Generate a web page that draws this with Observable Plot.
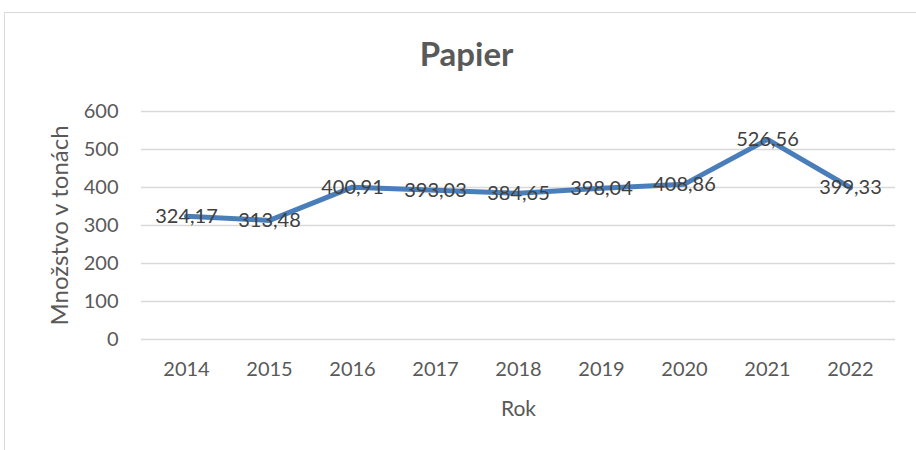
<!DOCTYPE html>
<html>
<head>
<meta charset="utf-8">
<script src="https://cdn.jsdelivr.net/npm/d3@7"></script>
<script src="https://cdn.jsdelivr.net/npm/@observablehq/plot@0.6"></script>
<style>
  html, body { margin: 0; padding: 0; background: #fff; }
  #wrap { position: relative; width: 916px; height: 450px; overflow: hidden; }
  #border { position: absolute; left: 4px; top: 12px; width: 930px; height: 460px; border: 1px solid #d9d9d9; box-sizing: border-box; }
  #chart { position: absolute; left: 0; top: 0; }
</style>
</head>
<body>
<div id="wrap"><div id="border"></div><div id="chart"></div></div>
<script>
const years = ["2014", "2015", "2016", "2017", "2018", "2019", "2020", "2021", "2022"];
const values = [324.17, 313.48, 400.91, 393.03, 384.65, 398.04, 408.86, 526.56, 399.33];
const yTicks = [0, 100, 200, 300, 400, 500, 600];
const title = "Papier";
const yLabel = "Množstvo v tonách";
const xLabel = "Rok";

const data = years.map((y, i) => ({ year: y, value: values[i], label: values[i].toFixed(2).replace(".", ",") }));

const chart = Plot.plot({
  width: 916,
  height: 450,
  marginTop: 111,
  marginBottom: 111,
  marginLeft: 141,
  marginRight: 21,
  style: { fontFamily: "Lato", color: "#595959", background: "transparent" },
  x: { type: "point", domain: years, padding: 0.5 },
  y: { domain: [0, 600] },
  marks: [
    Plot.gridY(yTicks, { stroke: "#d9d9d9", strokeOpacity: 1, strokeWidth: 1.5 }),
    Plot.axisY(yTicks, { tickSize: 0, tickPadding: 23, fontSize: 20, label: null, fill: "#595959" }),
    Plot.axisX({ tickSize: 0, tickPadding: 22, fontSize: 20, label: null, fill: "#595959" }),
    Plot.line(data, { x: "year", y: "value", stroke: "#4a7ebb", strokeWidth: 5, strokeLinejoin: "round", strokeLinecap: "round" }),
    Plot.text(data, { x: "year", y: "value", text: "label", fontSize: 20, fill: "#404040" }),
    Plot.text([title], { frameAnchor: "top", lineAnchor: "middle", dx: -52, dy: -56, fontSize: 33, fontWeight: "bold", fill: "#595959" }),
    Plot.text([yLabel], { frameAnchor: "left", textAnchor: "middle", lineAnchor: "middle", dx: -81, rotate: -90, fontSize: 24, fill: "#595959" }),
    Plot.text([xLabel], { frameAnchor: "bottom", lineAnchor: "middle", dy: 70, fontSize: 21, fill: "#595959" })
  ]
});
document.getElementById("chart").appendChild(chart);
</script>
</body>
</html>
